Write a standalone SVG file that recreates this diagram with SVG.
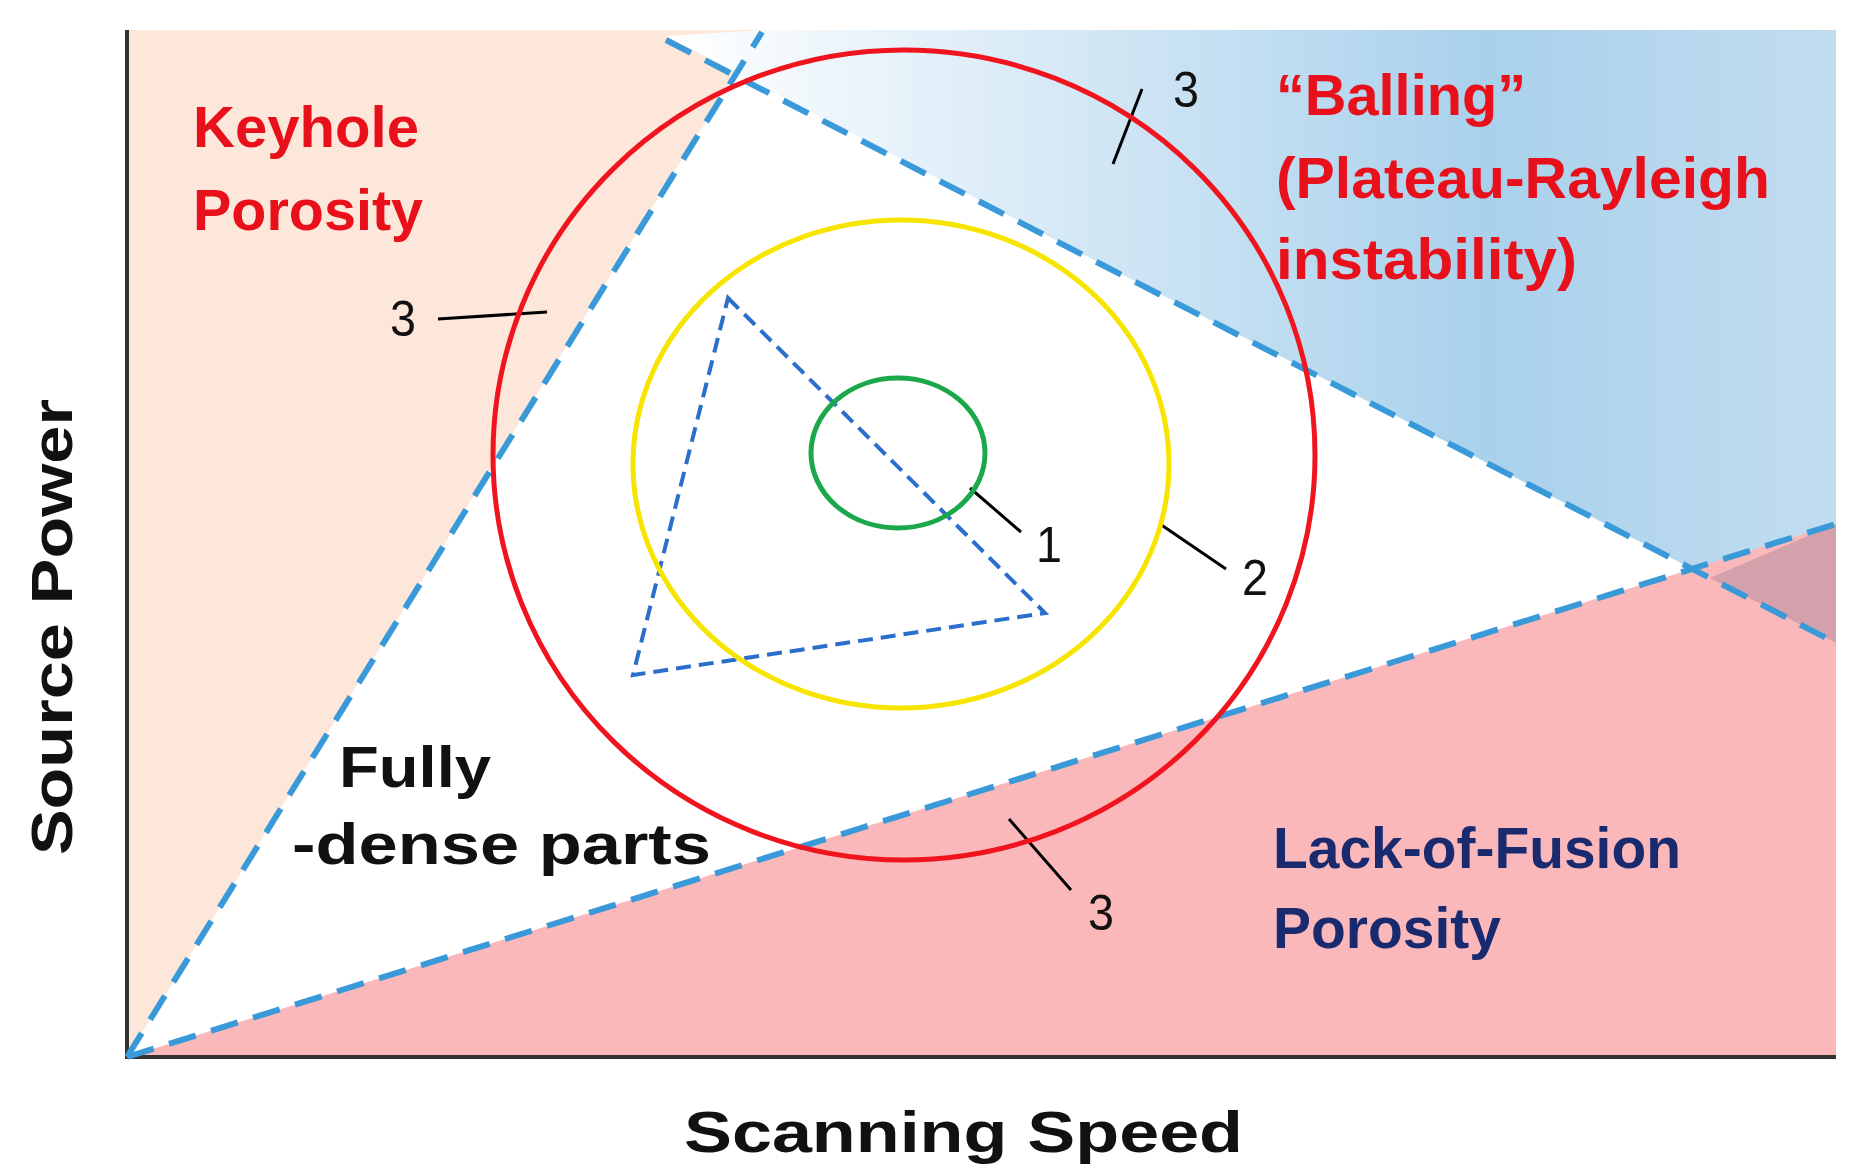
<svg xmlns="http://www.w3.org/2000/svg" width="1856" height="1176" viewBox="0 0 1856 1176">
<defs>
<linearGradient id="bl" x1="0" y1="0" x2="1" y2="0">
<stop offset="0" stop-color="#ffffff"/><stop offset="0.7" stop-color="#a9d1ec"/><stop offset="1" stop-color="#c2dcef"/>
</linearGradient>
<style>
.dl{fill:none;stroke:#3a9ad9;stroke-width:6;stroke-dasharray:28 16}
.lead{stroke:#000;stroke-width:3}
.num{font-family:"Liberation Sans",Arial,sans-serif;font-size:50px;fill:#111}
.lab{font-family:"Liberation Sans",Arial,sans-serif;font-weight:bold;font-size:58px}
.red{fill:#e8101a}.navy{fill:#1a2a6e}.blk{fill:#111}
</style>
</defs>
<rect width="1856" height="1176" fill="#fff"/>
<g id="regions">
<polygon points="127,30 762,30 127,1057" fill="#fde7da"/>
<polygon points="762,30 1836,30 1836,643 1710,578 1044,234 666,36 762,30" fill="url(#bl)"/>
<polygon points="127,1057 1836,524 1836,1057" fill="#fbb8bb"/>
<polygon points="1710,578 1836,524 1836,643" fill="#d4a0ab"/>
</g>
<g id="axes" stroke="#333" stroke-width="4">
<line x1="127" y1="30" x2="127" y2="1059"/>
<line x1="125" y1="1057" x2="1836" y2="1057"/>
</g>
<g id="connectors">
<line class="dl" x1="127" y1="1057" x2="762" y2="32"/>
<line class="dl" x1="666" y1="40" x2="1836" y2="643"/>
<line class="dl" x1="127" y1="1057" x2="1836" y2="524"/>
<polygon points="728,298 1045,613 633,675" fill="none" stroke="#2a6fcc" stroke-width="4" stroke-dasharray="15 8"/>
<line class="lead" x1="1142" y1="89" x2="1113" y2="164"/>
<line class="lead" x1="438" y1="319" x2="547" y2="312"/>
<line class="lead" x1="970" y1="488" x2="1021" y2="532"/>
<line class="lead" x1="1160" y1="524" x2="1226" y2="569"/>
<line class="lead" x1="1009" y1="819" x2="1071" y2="890"/>
</g>
<g id="circles" fill="none" stroke-width="5">
<ellipse cx="904" cy="455" rx="411" ry="405" stroke="#f0141e"/>
<ellipse cx="901" cy="464" rx="268" ry="244" stroke="#f7e500"/>
<ellipse cx="898" cy="453" rx="87" ry="75" stroke="#1aa84a"/>
</g>
<g id="labels">
<text class="num" x="1173" y="107" textLength="26" lengthAdjust="spacingAndGlyphs">3</text>
<text class="num" x="390" y="336" textLength="26" lengthAdjust="spacingAndGlyphs">3</text>
<text class="num" x="1036" y="562" textLength="26" lengthAdjust="spacingAndGlyphs">1</text>
<text class="num" x="1242" y="595" textLength="26" lengthAdjust="spacingAndGlyphs">2</text>
<text class="num" x="1088" y="930" textLength="26" lengthAdjust="spacingAndGlyphs">3</text>
<text class="lab red" x="193" y="147" textLength="226" lengthAdjust="spacingAndGlyphs">Keyhole</text>
<text class="lab red" x="193" y="230" textLength="230" lengthAdjust="spacingAndGlyphs">Porosity</text>
<text class="lab red" x="1276" y="115" textLength="250" lengthAdjust="spacingAndGlyphs">“Balling”</text>
<text class="lab red" x="1276" y="198" textLength="494" lengthAdjust="spacingAndGlyphs">(Plateau-Rayleigh</text>
<text class="lab red" x="1276" y="279" textLength="301" lengthAdjust="spacingAndGlyphs">instability)</text>
<text class="lab blk" x="339" y="787" textLength="152" lengthAdjust="spacingAndGlyphs">Fully</text>
<text class="lab blk" x="292" y="864" textLength="419" lengthAdjust="spacingAndGlyphs">-dense parts</text>
<text class="lab navy" x="1273" y="868" textLength="408" lengthAdjust="spacingAndGlyphs">Lack-of-Fusion</text>
<text class="lab navy" x="1273" y="948" textLength="228" lengthAdjust="spacingAndGlyphs">Porosity</text>
<text class="lab blk" x="684" y="1152" font-size="64" textLength="559" lengthAdjust="spacingAndGlyphs">Scanning  Speed</text>
<text class="lab blk" transform="translate(72,855) rotate(-90)" font-size="62" textLength="456" lengthAdjust="spacingAndGlyphs">Source Power</text>
</g>
</svg>
